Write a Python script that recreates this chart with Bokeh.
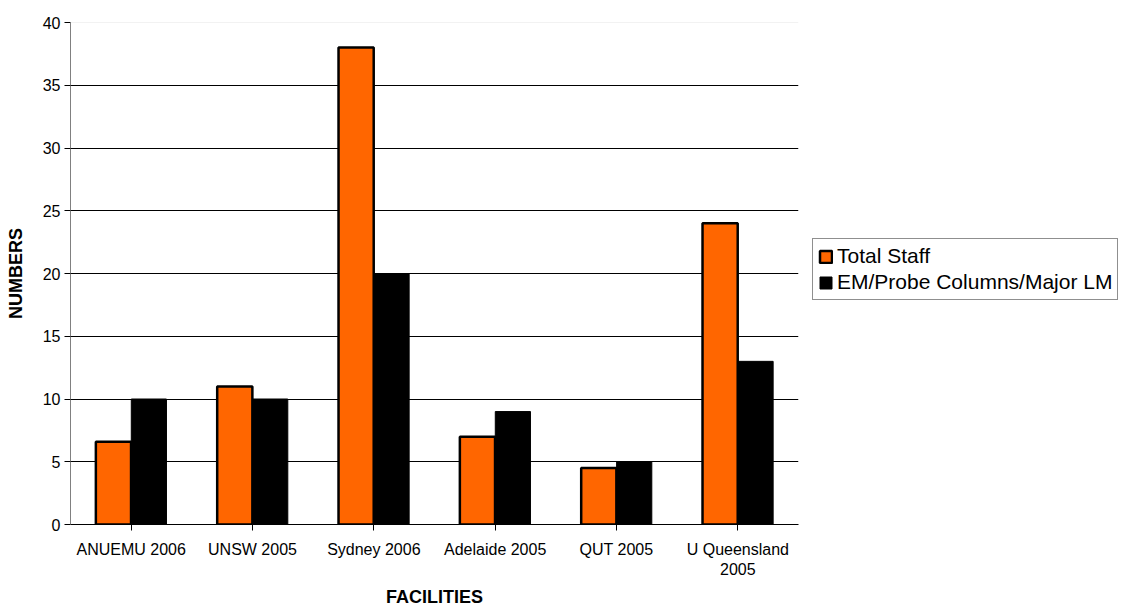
from bokeh.plotting import figure
from bokeh.models import ColumnDataSource, Range1d, FactorRange, FixedTicker, Span, Legend, LegendItem
from bokeh.transform import dodge
from bokeh.embed import file_html
from bokeh.resources import INLINE

facilities = ["ANUEMU 2006", "UNSW 2005", "Sydney 2006", "Adelaide 2005", "QUT 2005", "U Queensland\n2005"]
total_staff = [6.6, 11, 38, 7, 4.5, 24]
em_columns = [10, 10, 20, 9, 5, 13]
series_names = ["Total Staff", "EM/Probe Columns/Major LM"]
y_ticks = [0, 5, 10, 15, 20, 25, 30, 35, 40]

FONT = "Liberation Sans"

src = ColumnDataSource(data=dict(cat=facilities, staff=total_staff, em=em_columns))

p = figure(frame_width=728, frame_height=502, x_range=FactorRange(*facilities), y_range=Range1d(0, 40),
           output_backend="svg", toolbar_location=None,
           min_border_left=70, min_border_right=0, min_border_top=22, min_border_bottom=80)
p.outline_line_color = None
p.background_fill_color = "white"
p.border_fill_color = "white"

r1 = p.vbar(x=dodge("cat", -0.146, range=p.x_range), top="staff", width=0.29, source=src,
            fill_color="#FF6600", line_color="black", line_width=2.5)
r2 = p.vbar(x=dodge("cat", 0.146, range=p.x_range), top="em", width=0.29, source=src,
            fill_color="black", line_color="black", line_width=1)

# grid
p.xgrid.grid_line_color = None
p.ygrid.ticker = FixedTicker(ticks=y_ticks[1:-1])
p.ygrid.grid_line_color = "black"
p.ygrid.grid_line_width = 1
p.add_layout(Span(location=y_ticks[-1], dimension="width", line_color="#e6e6e6", line_width=1))

# axes
p.yaxis.ticker = FixedTicker(ticks=y_ticks)
p.yaxis.axis_line_color = "#808080"
p.yaxis.major_tick_line_color = "black"
p.yaxis.major_tick_out = 6
p.yaxis.major_tick_in = 0
p.yaxis.minor_tick_line_color = None
p.yaxis.major_label_standoff = 4
p.yaxis.major_label_text_font = FONT
p.yaxis.major_label_text_font_size = "16px"
p.yaxis.major_label_text_color = "black"
p.yaxis.axis_label = "NUMBERS"
p.yaxis.axis_label_text_font = FONT
p.yaxis.axis_label_text_font_style = "bold"
p.yaxis.axis_label_text_font_size = "18px"
p.yaxis.axis_label_text_color = "black"
p.yaxis.axis_label_standoff = 14

p.xaxis.axis_line_color = "black"
p.xaxis.major_tick_line_color = "black"
p.xaxis.major_tick_out = 6
p.xaxis.major_tick_in = 0
p.xaxis.major_label_standoff = 10
p.xaxis.major_label_text_font = FONT
p.xaxis.major_label_text_font_size = "16px"
p.xaxis.major_label_text_color = "black"
p.xaxis.axis_label = "FACILITIES"
p.xaxis.axis_label_text_font = FONT
p.xaxis.axis_label_text_font_style = "bold"
p.xaxis.axis_label_text_font_size = "18px"
p.xaxis.axis_label_text_color = "black"
p.xaxis.axis_label_standoff = 6

legend = Legend(items=[LegendItem(label=series_names[0], renderers=[r1]),
                       LegendItem(label=series_names[1], renderers=[r2])],
                location=(14, 224), orientation="vertical",
                label_text_font=FONT, label_text_font_size="21px", label_text_color="black",
                glyph_width=15, glyph_height=15, label_standoff=4,
                padding=5, spacing=2, margin=12,
                border_line_color="#202020", border_line_width=1,
                background_fill_color="white", background_fill_alpha=1)
p.add_layout(legend, "right")

open("out.html", "w").write(file_html(p, INLINE))
